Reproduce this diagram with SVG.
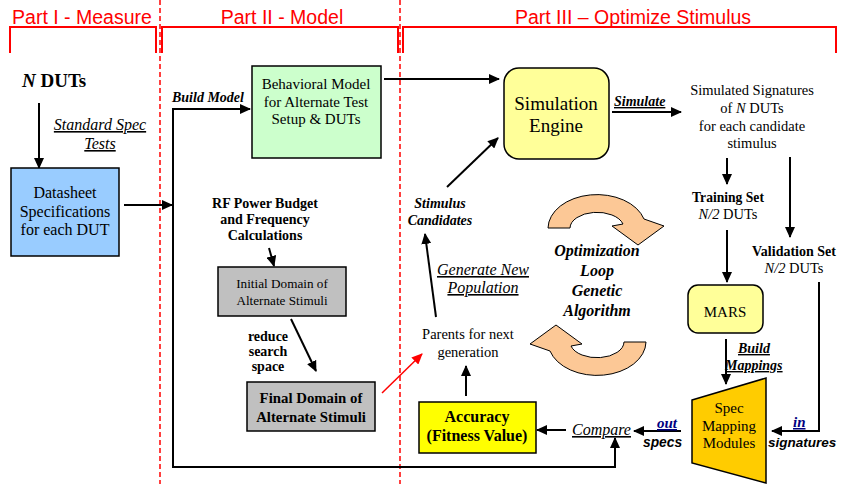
<svg xmlns="http://www.w3.org/2000/svg" width="846" height="484" viewBox="0 0 846 484">
  <defs>
    <marker id="ah" markerWidth="11" markerHeight="10" refX="10" refY="5" orient="auto" markerUnits="userSpaceOnUse">
      <path d="M0,0 L11,5 L0,10 Z" fill="#000"/>
    </marker>
    <marker id="ahRed" markerWidth="11" markerHeight="10" refX="10" refY="5" orient="auto" markerUnits="userSpaceOnUse">
      <path d="M0,0 L11,5 L0,10 Z" fill="#ff0000"/>
    </marker>
    <path id="loopArrow" d="M548,228 A49,34 0 0 1 644,219 L664,226 L638,245 L612,226 L623,224 A27,16 0 0 0 570,228 Z"/>
  </defs>
  <style>
    .serif { font-family: "Liberation Serif", "Times New Roman", serif; fill: #000; }
    .sans { font-family: "Liberation Sans", Arial, sans-serif; fill: #000; }
    .hdr { font-family: "Liberation Sans", Arial, sans-serif; font-size: 19.5px; fill: #ff0000; text-anchor: middle; }
    .bracket { fill: none; stroke: #ff0000; stroke-width: 2; }
    .divider { stroke: #ff0000; stroke-width: 1.5; stroke-dasharray: 5 3; }
    .box { stroke: #000; stroke-width: 1.5; }
    .wire { fill: none; stroke: #000; stroke-width: 2; }
    .arrow { fill: none; stroke: #000; stroke-width: 2; marker-end: url(#ah); }
    .mid { text-anchor: middle; }
    .b { font-weight: bold; }
    .i { font-style: italic; }
    .u { text-decoration: underline; }
    .navy { fill: #000080; }
    .loop { fill: #fcc896; stroke: #000; stroke-width: 1; }
  </style>

  <rect width="846" height="484" fill="#fff"/>

  <!-- section headers and brackets -->
  <g id="sections">
    <line class="divider" x1="160" y1="0" x2="160" y2="484"/>
    <line class="divider" x1="400" y1="0" x2="400" y2="484"/>
    <text class="hdr" x="82" y="24">Part I - Measure</text>
    <text class="hdr" x="282" y="24">Part II - Model</text>
    <text class="hdr" x="633" y="24">Part III – Optimize Stimulus</text>
    <path class="bracket" d="M10,53 V27 H156 V53"/>
    <path class="bracket" d="M162,53 V27 H398 V53"/>
    <path class="bracket" d="M403,53 V27 H836 V53"/>
  </g>

  <!-- connectors -->
  <g id="connectors">
    <line class="arrow" x1="39" y1="103" x2="39" y2="168"/>
    <line class="arrow" x1="124" y1="205" x2="172" y2="205"/>
    <path class="arrow" d="M173,109 H250"/>
    <path class="wire" d="M173,108 V467 H615 V448"/>
    <line class="arrow" x1="615" y1="449" x2="615" y2="438"/>
    <line class="arrow" x1="384" y1="79" x2="499" y2="79"/>
    <line class="arrow" x1="612" y1="112" x2="681" y2="112"/>
    <line class="arrow" x1="727" y1="158" x2="727" y2="184"/>
    <line class="arrow" x1="790" y1="157" x2="790" y2="237"/>
    <line class="arrow" x1="727" y1="230" x2="727" y2="282"/>
    <line class="arrow" x1="726" y1="339" x2="726" y2="384"/>
    <path class="arrow" d="M819,282 V431 H772"/>
    <line class="arrow" x1="681" y1="431" x2="634" y2="431"/>
    <line class="arrow" x1="566" y1="430" x2="537" y2="430"/>
    <line class="arrow" x1="466" y1="396" x2="466" y2="366"/>
    <line class="arrow" x1="436" y1="317" x2="425" y2="234"/>
    <line class="arrow" x1="447" y1="187" x2="498" y2="138"/>
    <line class="arrow" x1="269" y1="248" x2="274" y2="266"/>
    <line class="arrow" x1="291" y1="319" x2="316" y2="371"/>
    <line x1="382" y1="393" x2="422" y2="354" stroke="#ff0000" stroke-width="1.5" marker-end="url(#ahRed)"/>
  </g>

  <!-- connector labels -->
  <g id="edge-labels">
    <text class="serif i u mid" font-size="16" x="100" y="130">Standard Spec</text>
    <text class="serif i u mid" font-size="16" x="100" y="149">Tests</text>
    <text class="serif b i" font-size="14" x="172" y="102">Build Model</text>
    <text class="serif b i u" font-size="14" x="614" y="106">Simulate</text>
    <text class="serif i u mid" font-size="16" x="483" y="275">Generate New</text>
    <text class="serif i u mid" font-size="16" x="483" y="293">Population</text>
    <text class="serif b i u" font-size="14" x="738" y="353">Build</text>
    <text class="serif b i u" font-size="14" x="725" y="370">Mappings</text>
    <text class="serif b mid" font-size="14" x="268" y="341">reduce</text>
    <text class="serif b mid" font-size="14" x="268" y="356">search</text>
    <text class="serif b mid" font-size="14" x="268" y="371">space</text>
    <text class="serif b i u navy" font-size="15" x="657" y="428">out</text>
    <text class="sans b i" font-size="13.8" x="643" y="447">specs</text>
    <text class="serif b i u navy" font-size="15" x="793" y="427">in</text>
    <text class="sans b i" font-size="13.5" x="768" y="447">signatures</text>
  </g>

  <g id="n-duts">
    <text class="serif b" font-size="19" x="22" y="87"><tspan class="i">N</tspan> DUTs</text>
  </g>

  <g id="datasheet">
    <rect class="box" x="11" y="168" width="108" height="88" fill="#99ccff"/>
    <text class="serif mid" font-size="16" x="65" y="198">Datasheet</text>
    <text class="serif mid" font-size="16" x="65" y="217">Specifications</text>
    <text class="serif mid" font-size="16" x="65" y="235">for each DUT</text>
  </g>

  <g id="behavioral-model">
    <rect class="box" x="252" y="66" width="129" height="92" fill="#ccffcc"/>
    <text class="serif mid" font-size="15" x="316" y="89" fill="#222">Behavioral Model</text>
    <text class="serif mid" font-size="15" x="316" y="107" fill="#222">for Alternate Test</text>
    <text class="serif mid" font-size="15" x="316" y="124" fill="#222">Setup &amp; DUTs</text>
  </g>

  <g id="rf-power-budget">
    <text class="serif b mid" font-size="14" x="265" y="208">RF Power Budget</text>
    <text class="serif b mid" font-size="14" x="265" y="224">and Frequency</text>
    <text class="serif b mid" font-size="14" x="265" y="240">Calculations</text>
  </g>

  <g id="initial-domain">
    <rect class="box" x="218" y="267" width="128" height="49" fill="#c0c0c0"/>
    <text class="serif mid" font-size="13.2" x="282" y="288" fill="#222">Initial Domain of</text>
    <text class="serif mid" font-size="13.2" x="282" y="305" fill="#222">Alternate Stimuli</text>
  </g>

  <g id="final-domain">
    <rect class="box" x="247" y="382" width="128" height="49" fill="#c0c0c0"/>
    <text class="serif b mid" font-size="14.8" x="311" y="403">Final Domain of</text>
    <text class="serif b mid" font-size="14.8" x="311" y="422">Alternate Stimuli</text>
  </g>

  <g id="simulation-engine">
    <rect class="box" x="504" y="68" width="105" height="91" rx="15" fill="#ffff99"/>
    <text class="serif mid" font-size="19" x="556" y="110">Simulation</text>
    <text class="serif mid" font-size="19" x="556" y="132">Engine</text>
  </g>

  <g id="simulated-signatures">
    <text class="serif mid" font-size="14.5" x="752" y="95">Simulated Signatures</text>
    <text class="serif mid" font-size="14.5" x="752" y="113">of <tspan class="i">N</tspan> DUTs</text>
    <text class="serif mid" font-size="14.5" x="752" y="131">for each candidate</text>
    <text class="serif mid" font-size="14.5" x="752" y="148">stimulus</text>
  </g>

  <g id="training-set">
    <text class="serif b mid" font-size="13.6" x="728" y="202">Training Set</text>
    <text class="serif mid" font-size="14.5" x="728" y="219"><tspan class="i">N/2</tspan> DUTs</text>
  </g>

  <g id="validation-set">
    <text class="serif b mid" font-size="14" x="794" y="256">Validation Set</text>
    <text class="serif mid" font-size="14.5" x="794" y="273"><tspan class="i">N/2</tspan> DUTs</text>
  </g>

  <g id="mars">
    <rect class="box" x="688" y="285" width="75" height="48" rx="10" fill="#ffff99"/>
    <text class="serif mid" font-size="15" x="725" y="317">MARS</text>
  </g>

  <g id="spec-mapping-modules">
    <polygon class="box" points="692,400 766,378 766,483 692,463" fill="#ffcc00"/>
    <text class="serif mid" font-size="15" x="729" y="413">Spec</text>
    <text class="serif mid" font-size="15" x="729" y="431">Mapping</text>
    <text class="serif mid" font-size="15" x="729" y="448">Modules</text>
  </g>

  <g id="compare">
    <text class="serif i u" font-size="16" x="572" y="435">Compare</text>
  </g>

  <g id="accuracy">
    <rect class="box" x="419" y="402" width="117" height="51" fill="#ffff00"/>
    <text class="serif b mid" font-size="16" x="477" y="422">Accuracy</text>
    <text class="serif b mid" font-size="16" x="477" y="441">(Fitness Value)</text>
  </g>

  <g id="parents">
    <text class="serif mid" font-size="14.5" x="468" y="339">Parents for next</text>
    <text class="serif mid" font-size="14.5" x="468" y="357">generation</text>
  </g>

  <g id="stimulus-candidates">
    <text class="serif b i mid" font-size="14" x="440" y="208">Stimulus</text>
    <text class="serif b i mid" font-size="14" x="440" y="225">Candidates</text>
  </g>

  <g id="optimization-loop">
    <use href="#loopArrow" class="loop"/>
    <use href="#loopArrow" class="loop" transform="rotate(180 597 285)"/>
    <text class="serif b i mid" font-size="16" x="597" y="256">Optimization</text>
    <text class="serif b i mid" font-size="16" x="597" y="276">Loop</text>
    <text class="serif b i mid" font-size="16" x="597" y="296">Genetic</text>
    <text class="serif b i mid" font-size="16" x="597" y="316">Algorithm</text>
  </g>
</svg>
